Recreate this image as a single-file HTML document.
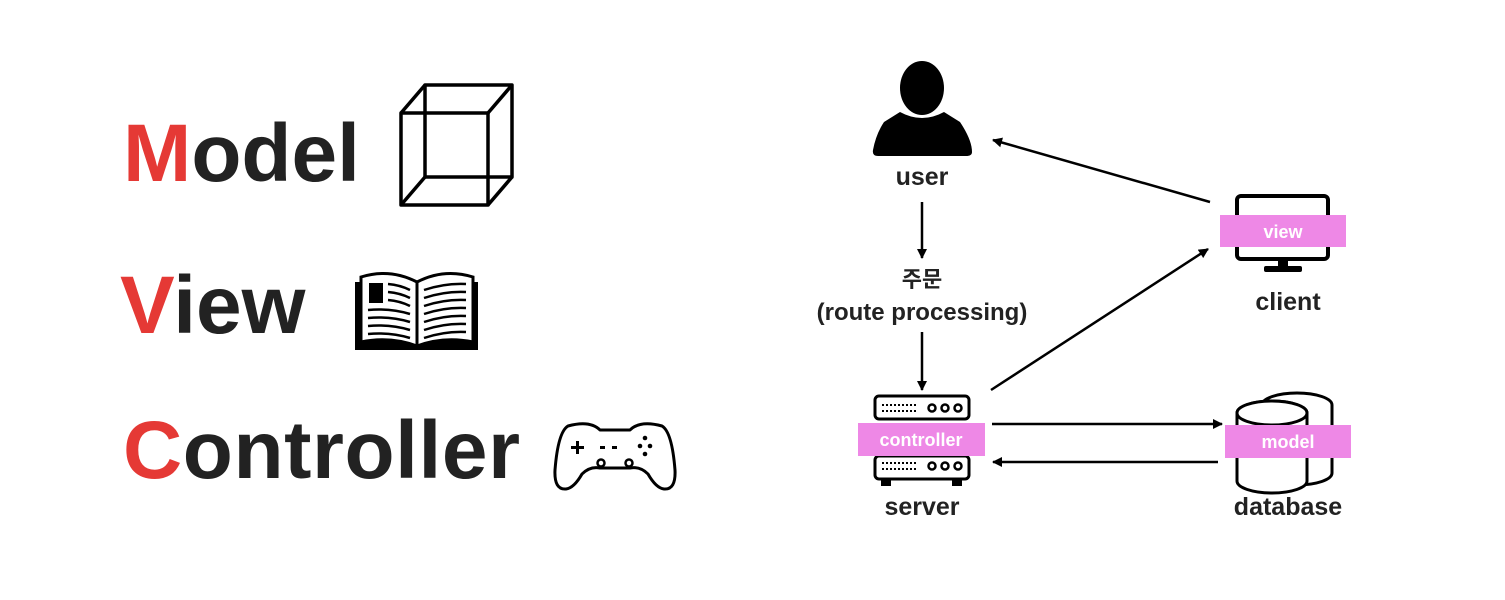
<!DOCTYPE html>
<html><head><meta charset="utf-8"><style>
html,body{margin:0;padding:0;background:#fff;width:1505px;height:600px;overflow:hidden}
svg{display:block}
.big{font-family:"Liberation Sans",sans-serif;font-weight:bold;font-size:82px;fill:#222}
.r{fill:#e53935}
.lbl{font-family:"Liberation Sans","Noto Sans CJK KR",sans-serif;font-weight:bold;font-size:25px;fill:#222;text-anchor:middle}
.tag{font-family:"Liberation Sans",sans-serif;font-weight:bold;font-size:18px;fill:#fff;text-anchor:middle}
</style></head><body>
<svg width="1505" height="600" viewBox="0 0 1505 600">
<defs><marker id="a" markerWidth="10" markerHeight="10" refX="9" refY="5" orient="auto" markerUnits="userSpaceOnUse"><path d="M0,0 L10,5 L0,10 z" fill="#000"/></marker></defs>
<text x="123" y="181" class="big"><tspan class="r">M</tspan>odel</text>
<text x="120" y="333" class="big"><tspan class="r">V</tspan>iew</text>
<text x="123" y="478" class="big" textLength="397"><tspan class="r">C</tspan>ontroller</text>
<!-- cube -->
<g fill="none" stroke="#000" stroke-width="3.5" stroke-linejoin="round">
<rect x="401" y="113" width="87" height="92"/>
<rect x="425" y="85" width="87" height="92"/>
<line x1="401" y1="113" x2="425" y2="85"/><line x1="488" y1="113" x2="512" y2="85"/>
<line x1="401" y1="205" x2="425" y2="177"/><line x1="488" y1="205" x2="512" y2="177"/>
</g>
<!-- book -->
<g>
<path d="M355,282 L355,350 L478,350 L478,282 Z" fill="#000"/>
<path d="M361,277 Q390,268 417,282 L417,346 Q390,336 361,342 Z" fill="#fff" stroke="#000" stroke-width="3"/>
<path d="M473,277 Q444,268 417,282 L417,346 Q444,336 473,342 Z" fill="#fff" stroke="#000" stroke-width="3"/>
<rect x="369" y="283" width="14" height="20" fill="#000"/>
<g stroke="#000" stroke-width="2.5" fill="none">
<path d="M388,284 Q400,285 410,290"/><path d="M388,292 Q400,293 410,298"/><path d="M388,300 Q400,301 410,306"/>
<path d="M368,310 Q390,308 410,314"/><path d="M368,318 Q390,316 410,322"/><path d="M368,326 Q390,324 410,330"/><path d="M368,334 Q390,332 410,338"/>
<path d="M424,290 Q445,283 466,284"/><path d="M424,298 Q445,291 466,292"/><path d="M424,306 Q445,299 466,300"/><path d="M424,314 Q445,307 466,308"/><path d="M424,322 Q445,315 466,316"/><path d="M424,330 Q445,323 466,324"/><path d="M424,338 Q445,331 466,332"/>
</g></g>
<!-- gamepad -->
<path d="M568,426 Q590,420 600,430 L630,430 Q640,420 662,426 Q672,432 675,470 Q676,490 664,489 Q656,488 648,474 Q640,466 630,468 L600,468 Q590,466 582,474 Q574,488 566,489 Q554,490 555,470 Q558,432 568,426 Z" fill="none" stroke="#000" stroke-width="3" stroke-linejoin="round"/>
<g fill="#000"><rect x="571" y="446" width="13" height="3"/><rect x="576" y="441" width="3" height="13"/>
<rect x="600" y="446" width="5" height="3"/><rect x="612" y="446" width="5" height="3"/>
<circle cx="645" cy="438" r="2.3"/><circle cx="640" cy="446" r="2.3"/><circle cx="650" cy="446" r="2.3"/><circle cx="645" cy="454" r="2.3"/></g>
<g fill="none" stroke="#000" stroke-width="2.5"><circle cx="601" cy="463" r="3.5"/><circle cx="629" cy="463" r="3.5"/></g>
<!-- user icon -->
<g fill="#000"><ellipse cx="922" cy="88" rx="22" ry="27"/>
<path d="M900,112 Q922,124 944,112 L960,122 Q972,140 972,152 Q972,156 966,156 L878,156 Q872,156 873,150 Q876,134 884,122 Z"/></g>
<text x="922" y="185" class="lbl">user</text>
<line x1="922" y1="202" x2="922" y2="258" stroke="#000" stroke-width="2.5" marker-end="url(#a)"/>
<text x="922" y="287" class="lbl" style="font-size:22px">주문</text>
<text x="922" y="320" class="lbl" style="font-size:24px">(route processing)</text>
<line x1="922" y1="332" x2="922" y2="390" stroke="#000" stroke-width="2.5" marker-end="url(#a)"/>
<!-- server -->
<g fill="none" stroke="#000" stroke-width="3">
<rect x="875" y="396" width="94" height="23" rx="4"/>
<rect x="875" y="456" width="94" height="23" rx="4"/>
</g>
<g fill="#000"><rect x="881" y="479" width="10" height="7"/><rect x="952" y="479" width="10" height="7"/></g>
<g fill="none" stroke="#000" stroke-width="2.5"><circle cx="932" cy="408" r="3.5"/><circle cx="945" cy="408" r="3.5"/><circle cx="958" cy="408" r="3.5"/>
<circle cx="932" cy="466" r="3.5"/><circle cx="945" cy="466" r="3.5"/><circle cx="958" cy="466" r="3.5"/></g>
<g stroke="#000" stroke-width="2" stroke-dasharray="2,2"><line x1="882" y1="405" x2="918" y2="405"/><line x1="882" y1="411" x2="918" y2="411"/><line x1="882" y1="463" x2="918" y2="463"/><line x1="882" y1="469" x2="918" y2="469"/></g>
<rect x="858" y="423" width="127" height="33" fill="#ee88e6"/>
<text x="921" y="446" class="tag">controller</text>
<text x="922" y="515" class="lbl">server</text>
<!-- client -->
<rect x="1237" y="196" width="91" height="63" rx="4" fill="none" stroke="#000" stroke-width="4"/>
<rect x="1278" y="259" width="10" height="9" fill="#000"/><rect x="1264" y="266" width="38" height="6" rx="2" fill="#000"/>
<rect x="1220" y="215" width="126" height="32" fill="#ee88e6"/>
<text x="1283" y="238" class="tag">view</text>
<text x="1288" y="310" class="lbl">client</text>
<!-- database -->
<g fill="#fff" stroke="#000" stroke-width="3">
<path d="M1262,405 A35,12 0 0 1 1332,405 L1332,473 A35,12 0 0 1 1262,473 Z"/>
<path d="M1237,413 A35,12 0 0 1 1307,413 L1307,481 A35,12 0 0 1 1237,481 Z"/>
<ellipse cx="1272" cy="413" rx="35" ry="12"/>
</g>
<rect x="1225" y="425" width="126" height="33" fill="#ee88e6"/>
<text x="1288" y="448" class="tag">model</text>
<text x="1288" y="515" class="lbl">database</text>
<!-- arrows -->
<g stroke="#000" stroke-width="2.5">
<line x1="1210" y1="202" x2="993" y2="140" marker-end="url(#a)"/>
<line x1="991" y1="390" x2="1208" y2="249" marker-end="url(#a)"/>
<line x1="992" y1="424" x2="1222" y2="424" marker-end="url(#a)"/>
<line x1="1218" y1="462" x2="993" y2="462" marker-end="url(#a)"/>
</g>
</svg>
</body></html>
